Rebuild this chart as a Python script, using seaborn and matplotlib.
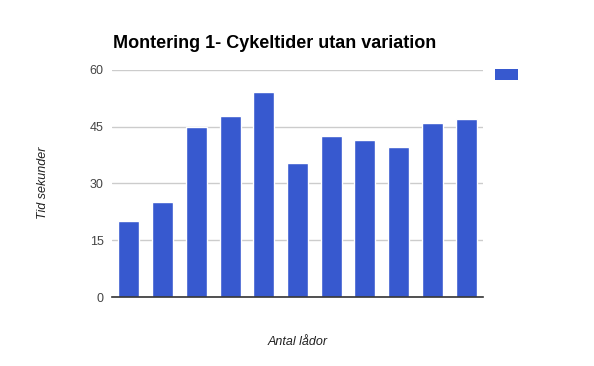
import matplotlib
matplotlib.use("Agg")
import matplotlib.pyplot as plt
import seaborn as sns
import pandas as pd

categories = [str(i) for i in range(1, 12)]
values = [20, 25, 45, 47.8, 54.2, 35.4, 42.5, 41.5, 39.7, 46.0, 47.0]
yticks = [0, 15, 30, 45, 60]

title = "Montering 1- Cykeltider utan variation"
ylabel = "Tid sekunder"
xlabel = "Antal lådor"
bar_color = "#3759cf"

sns.set_style("white")
plt.rcParams['font.family'] = ['Liberation Sans', 'DejaVu Sans']

df = pd.DataFrame({"cat": categories, "val": values})

fig = plt.figure(figsize=(5.94, 3.66), dpi=100)
ax = fig.add_axes([112/594, 1 - 297.3/366, (483-112)/594, (297.3-69.7)/366])

sns.barplot(data=df, x="cat", y="val", color=bar_color, width=0.62,
            saturation=1, ax=ax, zorder=3)
ax.set_ylim(0, 60)
ax.set_yticks(yticks)
ax.set_yticklabels([str(t) for t in yticks], color="#444444", fontsize=9)
ax.set_xticks([])
ax.set_xlim(-0.5, len(categories) - 0.5)
ax.grid(axis="y", color="#cccccc", linewidth=1, zorder=0)
ax.tick_params(axis="y", length=0, pad=6)
for s in ["top", "right", "left"]:
    ax.spines[s].set_visible(False)
ax.spines["bottom"].set_color("#333333")
ax.spines["bottom"].set_linewidth(1.2)
ax.spines["bottom"].set_zorder(4)
ax.set_xlabel("")
ax.set_ylabel("")

fig.text(113/594, 1 - 43/366, title, fontsize=13, fontweight="bold",
         color="#000000", ha="left", va="center")
fig.text(43/594, 1 - 183/366, ylabel, fontsize=9, style="italic",
         color="#222222", rotation=90, ha="center", va="center")
fig.text(298/594, 1 - 342/366, xlabel, fontsize=9, style="italic",
         color="#222222", ha="center", va="center")

fig.patches.append(plt.Rectangle(
    (495/594, 1 - 80/366), 23/594, 11/366, transform=fig.transFigure,
    facecolor=bar_color, edgecolor="none"))

fig.savefig("out.png", dpi=100, facecolor="white")
